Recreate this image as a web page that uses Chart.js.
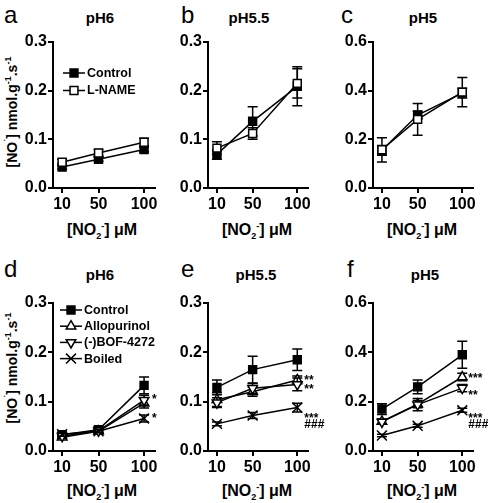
<!DOCTYPE html>
<html>
<head>
<meta charset="utf-8">
<script src="https://cdn.jsdelivr.net/npm/chart.js@4.4.1/dist/chart.umd.min.js"></script>
<style>
  body { margin: 0; background: #fff; width: 488px; height: 503px; position: relative; overflow: hidden;
         font-family: "Liberation Sans", Arial, sans-serif; }
  canvas { position: absolute; left: 0; top: 0; }
  .t { position: absolute; white-space: nowrap; font-weight: bold; color: #000; }
  .letter { position: absolute; font-size: 24px; line-height: 24px; color: #000; }
  .title { font-size: 15px; transform: translate(-50%, -50%); }
  .xt { font-size: 16px; transform: translate(-50%, -50%); }
  .yt { font-size: 14px; transform: translate(-50%, -50%) rotate(-90deg); }
  sub, sup { font-size: 9px; line-height: 0; }
</style>
</head>
<body>

<div class="letter" style="left:4px;top:3px">a</div>
<div class="letter" style="left:181px;top:3px">b</div>
<div class="letter" style="left:341px;top:3px">c</div>
<div class="letter" style="left:4px;top:257px">d</div>
<div class="letter" style="left:181px;top:257px">e</div>
<div class="letter" style="left:347px;top:257px">f</div>

<div class="t title" style="left:100px;top:17px">pH6</div>
<div class="t title" style="left:249px;top:17px">pH5.5</div>
<div class="t title" style="left:423px;top:17px">pH5</div>
<div class="t title" style="left:100px;top:274px">pH6</div>
<div class="t title" style="left:256px;top:274px">pH5.5</div>
<div class="t title" style="left:425px;top:274px">pH5</div>

<div class="t xt" style="left:102px;top:230px">[NO<sub>2</sub><sup>-</sup>] μM</div>
<div class="t xt" style="left:257px;top:230px">[NO<sub>2</sub><sup>-</sup>] μM</div>
<div class="t xt" style="left:422px;top:230px">[NO<sub>2</sub><sup>-</sup>] μM</div>
<div class="t xt" style="left:102px;top:491px">[NO<sub>2</sub><sup>-</sup>] μM</div>
<div class="t xt" style="left:257px;top:491px">[NO<sub>2</sub><sup>-</sup>] μM</div>
<div class="t xt" style="left:422px;top:491px">[NO<sub>2</sub><sup>-</sup>] μM</div>

<div class="t yt" style="left:12px;top:112px">[NO<sup>˙</sup>] nmol.g<sup>-1</sup>.s<sup>-1</sup></div>
<div class="t yt" style="left:12px;top:368px">[NO<sup>˙</sup>] nmol.g<sup>-1</sup>.s<sup>-1</sup></div>

<canvas id="ca" width="488" height="503"></canvas>
<canvas id="cb" width="488" height="503"></canvas>
<canvas id="cc" width="488" height="503"></canvas>
<canvas id="cd" width="488" height="503"></canvas>
<canvas id="ce" width="488" height="503"></canvas>
<canvas id="cf" width="488" height="503"></canvas>

<script>
  // nitrite concentrations (uM)
  const xValues = [10, 50, 100]
  const xTicks = [10, 50, 100]

  // a: pH6
  const aControl = [0.043, 0.059, 0.079]
  const aControlErr = [0.004, 0.004, 0.005]
  const aLname = [0.053, 0.072, 0.094]
  const aLnameErr = [0.006, 0.007, 0.008]

  // b: pH5.5
  const bControl = [0.069, 0.137, 0.209]
  const bControlErr = [0.010, 0.030, 0.040]
  const bLname = [0.082, 0.112, 0.215]
  const bLnameErr = [0.013, 0.012, 0.030]

  // c: pH5
  const cControl = [0.155, 0.300, 0.390]
  const cControlErr = [0.020, 0.015, 0.020]
  const cLname = [0.157, 0.282, 0.394]
  const cLnameErr = [0.050, 0.065, 0.060]

  // d: pH6
  const dControl = [0.033, 0.043, 0.133]
  const dControlErr = [0.004, 0.004, 0.017]
  const dAllo = [0.028, 0.040, 0.097]
  const dAlloErr = [0.004, 0.004, 0.010]
  const dBof = [0.030, 0.041, 0.103]
  const dBofErr = [0.004, 0.004, 0.010]
  const dBoiled = [0.034, 0.040, 0.066]
  const dBoiledErr = [0.004, 0.003, 0.007]

  // e: pH5.5
  const eControl = [0.129, 0.165, 0.185]
  const eControlErr = [0.015, 0.027, 0.022]
  const eAllo = [0.104, 0.120, 0.144]
  const eAlloErr = [0.014, 0.009, 0.008]
  const eBof = [0.098, 0.127, 0.135]
  const eBofErr = [0.010, 0.010, 0.013]
  const eBoiled = [0.055, 0.072, 0.088]
  const eBoiledErr = [0.004, 0.006, 0.009]

  // f: pH5
  const fControl = [0.170, 0.260, 0.390]
  const fControlErr = [0.022, 0.028, 0.055]
  const fAllo = [0.120, 0.190, 0.300]
  const fAlloErr = [0.010, 0.015, 0.015]
  const fBof = [0.118, 0.188, 0.255]
  const fBofErr = [0.010, 0.025, 0.015]
  const fBoiled = [0.063, 0.102, 0.165]
  const fBoiledErr = [0.005, 0.006, 0.008]

  const seriesNamesTop = ['Control', 'L-NAME']
  const seriesNamesBottom = ['Control', 'Allopurinol', '(-)BOF-4272', 'Boiled']

  // marker looks
  const STYLES = {
    'Control':     { pointStyle: 'rect', radius: 5.6, rotation: 0, fill: '#000' },
    'L-NAME':      { pointStyle: 'rect', radius: 5.6, rotation: 0, fill: '#fff' },
    'Allopurinol': { pointStyle: 'triangle', radius: 5.5, rotation: 0, fill: '#fff' },
    '(-)BOF-4272': { pointStyle: 'triangle', radius: 5.5, rotation: 180, fill: '#fff' },
    'Boiled':      { pointStyle: 'crossRot', radius: 7, rotation: 0, fill: '#fff' }
  }

  Chart.defaults.font.family = '"Liberation Sans", Arial, sans-serif'
  Chart.defaults.color = '#000'

  const errorBars = {
    id: 'errorBars',
    beforeDatasetDraw(chart, args) {
      const ds = chart.data.datasets[args.index]
      if (!ds.errors) return
      const ctx = chart.ctx
      const ys = chart.scales.y
      ctx.save()
      ctx.strokeStyle = '#000'
      ctx.lineWidth = 1.5
      args.meta.data.forEach(function (pt, i) {
        const v = ds.data[i].y, e = ds.errors[i]
        const y1 = ys.getPixelForValue(v + e), y2 = ys.getPixelForValue(v - e)
        ctx.beginPath()
        ctx.moveTo(pt.x, y1); ctx.lineTo(pt.x, y2)
        ctx.moveTo(pt.x - 5, y1); ctx.lineTo(pt.x + 5, y1)
        ctx.moveTo(pt.x - 5, y2); ctx.lineTo(pt.x + 5, y2)
        ctx.stroke()
      })
      ctx.restore()
    }
  }

  const panelLegend = {
    id: 'panelLegend',
    afterDraw(chart, args, opts) {
      if (!opts.show) return
      const ctx = chart.ctx
      ctx.save()
      chart.data.datasets.forEach(function (ds, i) {
        const y = opts.y + i * opts.gap
        ctx.strokeStyle = '#000'
        ctx.lineWidth = 1.5
        ctx.beginPath()
        ctx.moveTo(opts.x, y); ctx.lineTo(opts.x + 22, y)
        ctx.stroke()
        const st = STYLES[ds.label]
        ctx.fillStyle = st.fill
        ctx.lineWidth = 1.5
        Chart.helpers.drawPoint(ctx, { pointStyle: st.pointStyle, radius: st.radius, rotation: st.rotation, borderWidth: 1.5 }, opts.x + 11, y)
        ctx.fillStyle = '#000'
        ctx.font = 'bold 12.5px "Liberation Sans", Arial, sans-serif'
        ctx.textBaseline = 'middle'
        ctx.fillText(ds.label, opts.x + 24, y + 0.5)
      })
      ctx.restore()
    }
  }

  const sigMarks = {
    id: 'sigMarks',
    afterDatasetsDraw(chart, args, opts) {
      if (!opts.marks) return
      const ctx = chart.ctx
      ctx.save()
      ctx.fillStyle = '#000'
      ctx.font = 'bold 12px "Liberation Sans", Arial, sans-serif'
      ctx.textBaseline = 'alphabetic'
      opts.marks.forEach(function (m) {
        const pt = chart.getDatasetMeta(m.series).data[m.index]
        ctx.fillText(m.text, pt.x + m.dx, pt.y + m.dy)
      })
      ctx.restore()
    }
  }

  function makePanel(id, box, ymax, step, names, values, errors, legend, marks) {
    const datasets = names.map(function (name, i) {
      const st = STYLES[name]
      return {
        label: name,
        data: xValues.map(function (x, j) { return { x: x, y: values[i][j] } }),
        errors: errors[i],
        borderColor: '#000',
        borderWidth: 1.5,
        pointStyle: st.pointStyle,
        pointRadius: st.radius,
        pointRotation: st.rotation,
        pointBackgroundColor: st.fill,
        pointBorderColor: '#000',
        pointBorderWidth: 1.5,
        tension: 0,
        fill: false,
        order: names.length - i
      }
    })
    new Chart(document.getElementById(id), {
      type: 'line',
      data: { datasets: datasets },
      plugins: [errorBars, panelLegend, sigMarks],
      options: {
        responsive: false,
        animation: false,
        devicePixelRatio: 1,
        layout: {
          autoPadding: false,
          padding: { left: box.left - 40, right: 488 - box.right, top: box.top, bottom: 503 - box.bottom - 40 }
        },
        plugins: {
          legend: { display: false },
          tooltip: { enabled: false },
          panelLegend: legend,
          sigMarks: { marks: marks }
        },
        scales: {
          x: {
            type: 'linear', min: 0, max: 112,
            afterBuildTicks: function (s) { s.ticks = xTicks.map(function (v) { return { value: v } }) },
            afterFit: function (s) { s.height = 40 },
            grid: { drawOnChartArea: false, drawTicks: true, tickLength: 5, color: '#000', lineWidth: 2 },
            border: { display: true, color: '#000', width: 2 },
            ticks: { font: { size: 16, weight: 'bold' }, padding: 2, maxRotation: 0, color: '#000' }
          },
          y: {
            min: 0, max: ymax,
            afterFit: function (s) { s.width = 40 },
            grid: { drawOnChartArea: false, drawTicks: true, tickLength: 5, color: '#000', lineWidth: 2 },
            border: { display: true, color: '#000', width: 2 },
            ticks: { stepSize: step, font: { size: 16, weight: 'bold' }, padding: 1, color: '#000',
                     callback: function (v) { return v.toFixed(1) } }
          }
        }
      }
    })
  }

  const TOP = { top: 42, bottom: 188 }
  const BOT = { top: 303, bottom: 451 }

  makePanel('ca', { left: 53, right: 155, top: TOP.top, bottom: TOP.bottom }, 0.3, 0.1, seriesNamesTop,
    [aControl, aLname], [aControlErr, aLnameErr], { show: true, x: 63, y: 73, gap: 17.5 }, [])
  makePanel('cb', { left: 208, right: 308, top: TOP.top, bottom: TOP.bottom }, 0.3, 0.1, seriesNamesTop,
    [bControl, bLname], [bControlErr, bLnameErr], { show: false }, [])
  makePanel('cc', { left: 373, right: 473, top: TOP.top, bottom: TOP.bottom }, 0.6, 0.2, seriesNamesTop,
    [cControl, cLname], [cControlErr, cLnameErr], { show: false }, [])

  makePanel('cd', { left: 53, right: 155, top: BOT.top, bottom: BOT.bottom }, 0.3, 0.1, seriesNamesBottom,
    [dControl, dAllo, dBof, dBoiled], [dControlErr, dAlloErr, dBofErr, dBoiledErr],
    { show: true, x: 60, y: 310, gap: 16.2 },
    [ { series: 2, index: 2, text: '*', dx: 8, dy: 3 },
      { series: 3, index: 2, text: '*', dx: 8, dy: 4 } ])
  makePanel('ce', { left: 208, right: 308, top: BOT.top, bottom: BOT.bottom }, 0.3, 0.1, seriesNamesBottom,
    [eControl, eAllo, eBof, eBoiled], [eControlErr, eAlloErr, eBofErr, eBoiledErr], { show: false },
    [ { series: 1, index: 2, text: '**', dx: 7, dy: 4 },
      { series: 2, index: 2, text: '**', dx: 7, dy: 9 },
      { series: 3, index: 2, text: '***', dx: 7, dy: 14 },
      { series: 3, index: 2, text: '###', dx: 7, dy: 20 } ])
  makePanel('cf', { left: 373, right: 473, top: BOT.top, bottom: BOT.bottom }, 0.6, 0.2, seriesNamesBottom,
    [fControl, fAllo, fBof, fBoiled], [fControlErr, fAlloErr, fBofErr, fBoiledErr], { show: false },
    [ { series: 1, index: 2, text: '***', dx: 6, dy: 5 },
      { series: 2, index: 2, text: '**', dx: 6, dy: 11 },
      { series: 3, index: 2, text: '***', dx: 6, dy: 12 },
      { series: 3, index: 2, text: '###', dx: 6, dy: 18 } ])
</script>
</body>
</html>
